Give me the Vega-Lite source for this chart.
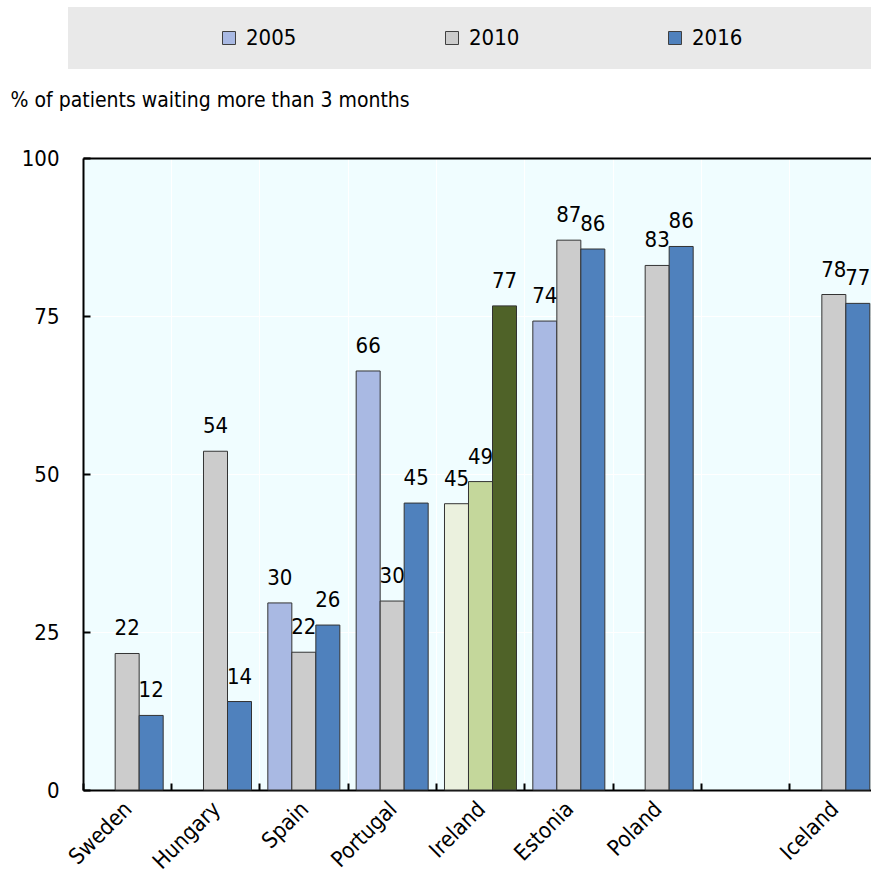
{
  "$schema": "https://vega.github.io/schema/vega-lite/v6.json",
  "autosize": {"type": "none"},
  "padding": {"left": 83, "top": 158, "right": -7, "bottom": 83},
  "width": 795,
  "height": 632,
  "config": {
    "view": {"fill": "#f0fdff", "stroke": null},
    "font": "'Liberation Sans Narrow', 'DejaVu Sans Condensed', 'Liberation Sans', sans-serif"
  },
  "data": {
    "values": [
      {"country": "Sweden", "slot": "2010", "series": "2010", "value": 21.6},
      {"country": "Sweden", "slot": "2016", "series": "2016", "value": 11.8},
      {"country": "Hungary", "slot": "2010", "series": "2010", "value": 53.6},
      {"country": "Hungary", "slot": "2016", "series": "2016", "value": 14.0},
      {"country": "Spain", "slot": "2005", "series": "2005", "value": 29.6},
      {"country": "Spain", "slot": "2010", "series": "2010", "value": 21.8},
      {"country": "Spain", "slot": "2016", "series": "2016", "value": 26.1},
      {"country": "Portugal", "slot": "2005", "series": "2005", "value": 66.3},
      {"country": "Portugal", "slot": "2010", "series": "2010", "value": 29.9},
      {"country": "Portugal", "slot": "2016", "series": "2016", "value": 45.4},
      {"country": "Ireland", "slot": "2005", "series": "Ireland A", "value": 45.3},
      {"country": "Ireland", "slot": "2010", "series": "Ireland B", "value": 48.8},
      {"country": "Ireland", "slot": "2016", "series": "Ireland C", "value": 76.6},
      {"country": "Estonia", "slot": "2005", "series": "2005", "value": 74.2},
      {"country": "Estonia", "slot": "2010", "series": "2010", "value": 87.0},
      {"country": "Estonia", "slot": "2016", "series": "2016", "value": 85.6},
      {"country": "Poland", "slot": "2010", "series": "2010", "value": 83.0},
      {"country": "Poland", "slot": "2016", "series": "2016", "value": 86.0},
      {"country": "Iceland", "slot": "2010", "series": "2010", "value": 78.4},
      {"country": "Iceland", "slot": "2016", "series": "2016", "value": 77.0}
    ]
  },
  "encoding": {
    "x": {
      "field": "country",
      "type": "nominal",
      "sort": null,
      "scale": {
        "domain": ["Sweden", "Hungary", "Spain", "Portugal", "Ireland", "Estonia", "Poland", " ", "Iceland"],
        "paddingInner": 0,
        "paddingOuter": 0
      },
      "axis": {
        "title": null,
        "bandPosition": 0,
        "labelOffset": -6,
        "labelAngle": -45,
        "labelAlign": "right",
        "labelBaseline": "top",
        "labelFontSize": 22,
        "labelColor": "black",
        "labelPadding": 15,
        "domainColor": "black",
        "domainWidth": 2,
        "tickColor": "black",
        "tickWidth": 2,
        "tickSize": -7,
        "grid": true,
        "gridColor": "white",
        "gridWidth": 1
      }
    },
    "xOffset": {
      "field": "slot",
      "type": "nominal",
      "scale": {"domain": ["2005", "2010", "2016"], "paddingOuter": 0.34, "paddingInner": 0}
    },
    "y": {
      "field": "value",
      "type": "quantitative",
      "scale": {"domain": [0, 100], "nice": false},
      "axis": {
        "values": [0, 25, 50, 75, 100],
        "title": "% of patients waiting more than 3 months",
        "titleAngle": 0,
        "titleAlign": "left",
        "titleBaseline": "middle",
        "titleX": -73,
        "titleY": -58,
        "titleFontSize": 21,
        "titleFontWeight": "normal",
        "titleColor": "black",
        "labelFontSize": 22,
        "labelColor": "black",
        "labelPadding": 31,
        "domainColor": "black",
        "domainWidth": 2,
        "tickColor": "black",
        "tickWidth": 2,
        "tickSize": -7,
        "grid": true,
        "gridColor": {"condition": {"test": "datum.value == 100", "value": "black"}, "value": "white"},
        "gridWidth": {"condition": {"test": "datum.value == 100", "value": 2}, "value": 1}
      }
    }
  },
  "layer": [
    {
      "mark": {"type": "bar", "stroke": "#333333", "strokeWidth": 1},
      "encoding": {
        "color": {
          "field": "series",
          "type": "nominal",
          "scale": {
            "domain": ["2005", "2010", "2016", "Ireland A", "Ireland B", "Ireland C"],
            "range": ["#a9b9e3", "#cccccc", "#4f81bd", "#ebf1de", "#c4d79b", "#4f6228"]
          },
          "legend": {
            "values": ["2005", "2010", "2016"],
            "orient": "none",
            "legendX": -15,
            "legendY": -151,
            "direction": "horizontal",
            "title": " ",
            "titleOrient": "left",
            "titleFontSize": 1,
            "titlePadding": 130,
            "padding": 20,
            "fillColor": "#e9e9e9",
            "symbolType": "square",
            "symbolSize": 169,
            "symbolStrokeColor": "#404040",
            "symbolStrokeWidth": 1,
            "labelFontSize": 22,
            "labelColor": "black",
            "labelOffset": 6,
            "labelLimit": 500,
            "columnPadding": 144,
            "labelExpr": "datum.label == '2016' ? '2016\u00a0\u00a0\u00a0\u00a0\u00a0\u00a0\u00a0\u00a0\u00a0\u00a0\u00a0\u00a0\u00a0\u00a0\u00a0\u00a0\u00a0\u00a0\u00a0\u200b' : datum.label"
          }
        }
      }
    },
    {
      "mark": {"type": "text", "baseline": "alphabetic", "dy": -18, "fontSize": 22, "color": "black"},
      "encoding": {
        "text": {"field": "value", "type": "quantitative", "format": ".0f"}
      }
    }
  ]
}
